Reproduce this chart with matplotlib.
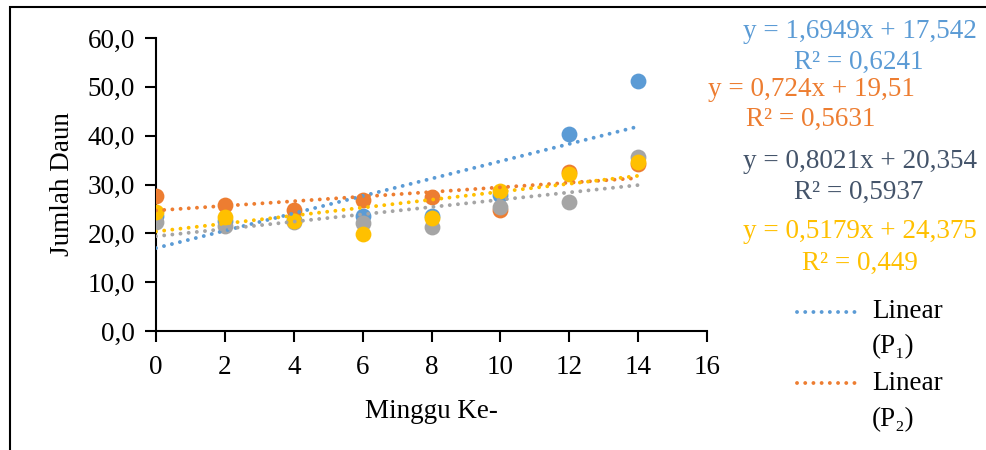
import matplotlib.pyplot as plt
import numpy as np
from matplotlib.lines import Line2D
from matplotlib.patches import Rectangle
from matplotlib.ticker import FuncFormatter

plt.rcParams['font.family'] = ['Liberation Serif', 'DejaVu Serif']

# Data: jumlah daun per minggu for four treatments
minggu = [0, 2, 4, 6, 8, 10, 12, 14]
p1 = [23.5, 22.5, 22.8, 23.6, 23.5, 27.9, 40.4, 51.2]
p2 = [27.7, 25.8, 24.8, 26.8, 27.4, 24.8, 32.5, 34.2]
p3 = [22.4, 21.6, 22.3, 22.1, 21.2, 25.3, 26.5, 35.7]
p4 = [24.4, 23.4, 22.5, 19.8, 23.1, 28.7, 32.1, 34.6]

series = [p1, p2, p3, p4]
colors = ['#5B9BD5', '#ED7D31', '#A5A5A5', '#FFC000']

# equation labels as printed on the chart
eq_texts = [
    ("y = 1,6949x + 17,542", "R² = 0,6241", '#5B9BD5'),
    ("y = 0,724x + 19,51", "R² = 0,5631", '#ED7D31'),
    ("y = 0,8021x + 20,354", "R² = 0,5937", '#44546A'),
    ("y = 0,5179x + 24,375", "R² = 0,449", '#FFC000'),
]

dotted = (0, (0.01, 2.1))

fig = plt.figure(figsize=(9.86, 4.5), dpi=100)
ax = fig.add_axes([156/986, 1 - 331/450, (707 - 156)/986, (331 - 38)/450])

x = np.array(minggu)
for vals, c in zip(series, colors):
    ax.scatter(x, vals, s=130, color=c, zorder=3, linewidths=0)

# linear trendlines (on top of the markers, like Excel)
for vals, c in zip(series, colors):
    k, b = np.polyfit(x, vals, 1)
    xs = np.array([0, 14])
    ax.plot(xs, k * xs + b, color=c, lw=2.8, linestyle=dotted,
            dash_capstyle='round', zorder=4)

ax.set_xlim(0, 16)
ax.set_ylim(0, 60)
ax.set_xticks(range(0, 17, 2))
ax.set_yticks(range(0, 61, 10))
ax.yaxis.set_major_formatter(FuncFormatter(lambda v, p: f"{v:.1f}".replace('.', ',')))
ax.tick_params(direction='out', length=8, width=1.5, labelsize=19.5, pad=7)
ax.tick_params(axis='x', pad=9)
for side in ['top', 'right']:
    ax.spines[side].set_visible(False)
for side in ['left', 'bottom']:
    ax.spines[side].set_linewidth(1.5)
ax.set_xlabel('Minggu Ke-', fontsize=19.5, labelpad=14)
ax.set_ylabel('Jumlah Daun', fontsize=19.5, labelpad=9)

# equations at the right
eq_pos = [(860, 32, 859, 62), (811, 90, 811, 119), (860, 161, 859, 192), (860, 232, 860, 263)]
for (eq, r2, c), (x1, y1, x2, y2) in zip(eq_texts, eq_pos):
    fig.text(x1/986, 1 - y1/450, eq, color=c, fontsize=19.5, ha='center', va='center')
    fig.text(x2/986, 1 - y2/450, r2, color=c, fontsize=19.5, ha='center', va='center')

# partial legend (only two entries visible)
leg = [("Linear", "(P₁)", colors[0], 312, 347), ("Linear", "(P₂)", colors[1], 383, 420)]
for l1, l2, c, ya, yb in leg:
    fig.add_artist(Line2D([797/986, 858/986], [1 - ya/450, 1 - ya/450], color=c, lw=2.8,
                          linestyle=dotted, dash_capstyle='round',
                          transform=fig.transFigure))
    fig.text(872/986, 1 - ya/450, l1, fontsize=19.5, va='center', ha='left')
    fig.text(872/986, 1 - yb/450, l2, fontsize=19.5, va='center', ha='left')

# outer chart frame
fig.add_artist(Rectangle((10/986, -0.1), 1.2, 1.1 - 7/450, fill=False, lw=1.5,
                         edgecolor='black', transform=fig.transFigure))

fig.savefig('out.png', dpi=100)
